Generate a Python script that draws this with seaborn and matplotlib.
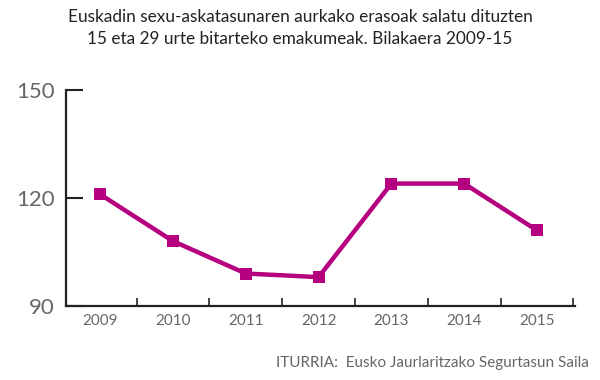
import numpy as np
import pandas as pd
import matplotlib
matplotlib.use("Agg")
import matplotlib.pyplot as plt
import seaborn as sns

years  = ["2009", "2010", "2011", "2012", "2013", "2014", "2015"]
values = [121, 108, 99, 98, 124, 124, 111]
yticks = [90, 120, 150]

title  = ("Euskadin sexu-askatasunaren aurkako erasoak salatu dituzten\n"
          "15 eta 29 urte bitarteko emakumeak. Bilakaera 2009-15")
source = "ITURRIA:  Eusko Jaurlaritzako Segurtasun Saila"

sns.set_style("white")
plt.rcParams["font.family"] = ["Lato", "DejaVu Sans"]

df = pd.DataFrame({"year": years, "value": values})
color = "#b5007f"
gray = "#666666"

fig = plt.figure(figsize=(6, 3.8), dpi=100)
ax = fig.add_axes([0.11, 0.195, 0.848, 0.568])

sns.lineplot(data=df, x="year", y="value", ax=ax, color=color, lw=3.2,
             marker="s", markersize=9, markeredgewidth=0, sort=False)

ax.set_xlim(-0.47, 6.52)
ax.set_ylim(90, 150)
ax.set_yticks(yticks)
ax.set_yticklabels([str(v) for v in yticks], fontsize=16, color=gray)
ax.set_xticks(range(len(years)))
ax.set_xticklabels(years, fontsize=11, color=gray)
ax.tick_params(axis="x", which="major", bottom=False, length=0, pad=6)
ax.tick_params(axis="y", which="major", left=True, direction="in", length=12,
               width=1.5, color="#222222", pad=8)
ax.set_xticks(np.arange(0.5, len(years), 1), minor=True)
ax.tick_params(axis="x", which="minor", bottom=True, direction="in", length=6,
               width=1.2, color="#222222")
ax.set_xlabel("")
ax.set_ylabel("")

for s in ["top", "right"]:
    ax.spines[s].set_visible(False)
for s in ["left", "bottom"]:
    ax.spines[s].set_color("#222222")
    ax.spines[s].set_linewidth(1.6)

fig.text(0.5, 0.975, title, ha="center", va="top", fontsize=12.4,
         color="#222222", linespacing=1.45)
fig.text(0.982, 0.025, source, ha="right", va="bottom", fontsize=11,
         color="#666666")

plt.savefig("out.png", dpi=100)
plt.close()
